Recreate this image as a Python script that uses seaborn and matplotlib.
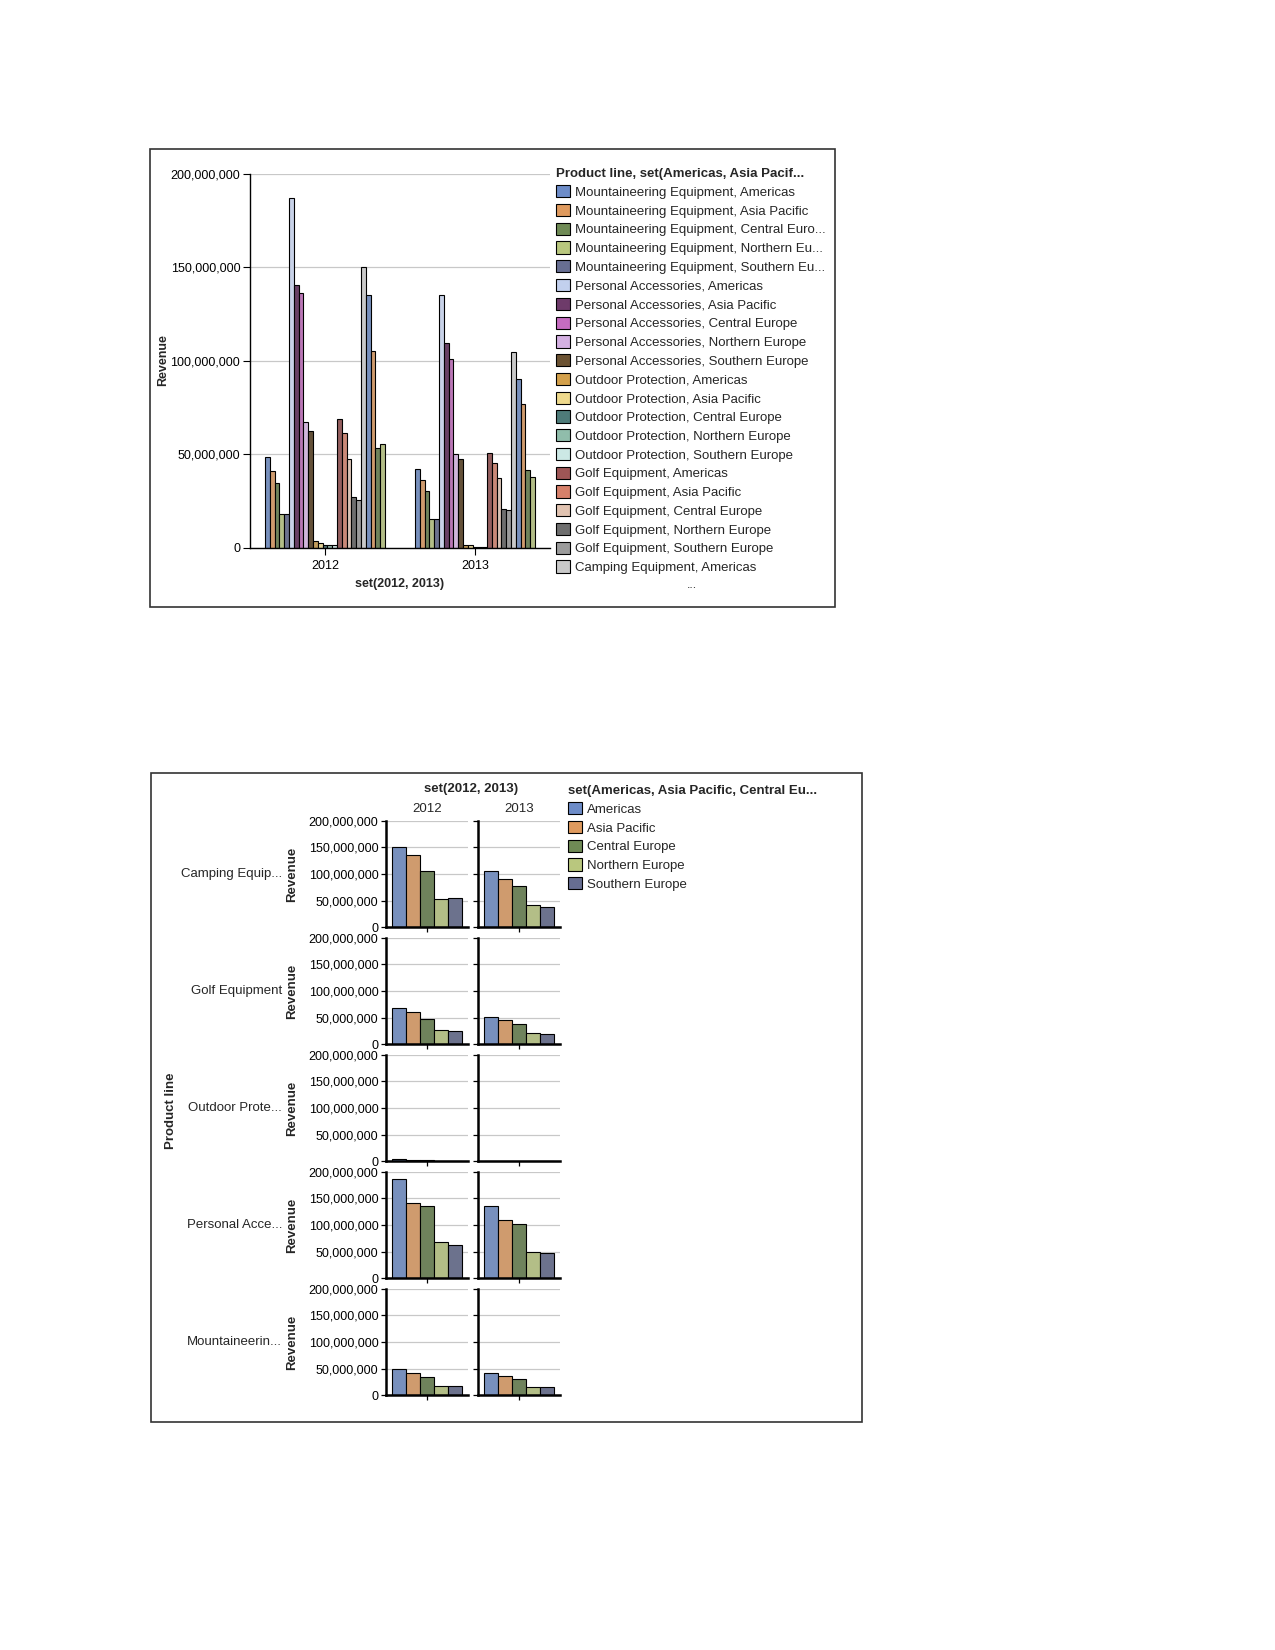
import pandas as pd
import matplotlib
matplotlib.use("Agg")
from matplotlib import pyplot as plt
from matplotlib.patches import Patch, Rectangle
from matplotlib.ticker import FuncFormatter
import seaborn as sns

W, H = 1275, 1650

years = ["2012", "2013"]
products = ["Mountaineering Equipment", "Personal Accessories", "Outdoor Protection",
            "Golf Equipment", "Camping Equipment"]
regions = ["Americas", "Asia Pacific", "Central Europe", "Northern Europe", "Southern Europe"]

# revenue in millions, one value per region (same order as regions)
mountaineering_2012 = [48.8, 41.2, 34.5, 18.0, 18.0]
mountaineering_2013 = [42.0, 36.5, 30.5, 15.5, 15.5]
personal_2012 = [187.2, 140.6, 136.3, 67.6, 62.4]
personal_2013 = [135.2, 109.7, 101.2, 50.1, 47.6]
outdoor_2012 = [3.6, 2.5, 1.8, 1.4, 1.4]
outdoor_2013 = [1.4, 1.4, 0.8, 0.8, 0.8]
golf_2012 = [68.9, 61.4, 47.5, 27.5, 25.7]
golf_2013 = [50.6, 45.3, 37.2, 20.8, 20.2]
camping_2012 = [150.0, 135.5, 105.5, 53.5, 55.5]
camping_2013 = [104.8, 90.5, 77.2, 41.8, 37.9]

bottom_rows = ["Camping Equipment", "Golf Equipment", "Outdoor Protection",
               "Personal Accessories", "Mountaineering Equipment"]
bottom_row_labels = ["Camping Equip...", "Golf Equipment", "Outdoor Prote...",
                     "Personal Acce...", "Mountaineerin..."]

# legend text as shown (long ones are cut off)
legend_labels = [
    "Mountaineering Equipment, Americas",
    "Mountaineering Equipment, Asia Pacific",
    "Mountaineering Equipment, Central Euro...",
    "Mountaineering Equipment, Northern Eu...",
    "Mountaineering Equipment, Southern Eu...",
    "Personal Accessories, Americas",
    "Personal Accessories, Asia Pacific",
    "Personal Accessories, Central Europe",
    "Personal Accessories, Northern Europe",
    "Personal Accessories, Southern Europe",
    "Outdoor Protection, Americas",
    "Outdoor Protection, Asia Pacific",
    "Outdoor Protection, Central Europe",
    "Outdoor Protection, Northern Europe",
    "Outdoor Protection, Southern Europe",
    "Golf Equipment, Americas",
    "Golf Equipment, Asia Pacific",
    "Golf Equipment, Central Europe",
    "Golf Equipment, Northern Europe",
    "Golf Equipment, Southern Europe",
    "Camping Equipment, Americas",
]

palette21 = ["#6d8cc8", "#df9a5e", "#6f8a55", "#b9c77e", "#676e92",
             "#c2d0ee", "#6e3b6a", "#c56cc0", "#d4b0e2", "#6b5232",
             "#d3a04b", "#eed98c", "#4e7b79", "#90bdab", "#cce8e5",
             "#9e5656", "#d6806a", "#e1c3b1", "#6e6e6e", "#9b9b9b",
             "#c9c9c9"]

values = {
    ("Mountaineering Equipment", "2012"): mountaineering_2012,
    ("Mountaineering Equipment", "2013"): mountaineering_2013,
    ("Personal Accessories", "2012"): personal_2012,
    ("Personal Accessories", "2013"): personal_2013,
    ("Outdoor Protection", "2012"): outdoor_2012,
    ("Outdoor Protection", "2013"): outdoor_2013,
    ("Golf Equipment", "2012"): golf_2012,
    ("Golf Equipment", "2013"): golf_2013,
    ("Camping Equipment", "2012"): camping_2012,
    ("Camping Equipment", "2013"): camping_2013,
}

rows = []
for (prod, yr), vals in values.items():
    for reg, v in zip(regions, vals):
        rows.append({"year": yr, "product": prod, "region": reg,
                     "series": f"{prod}, {reg}", "revenue": v * 1e6})
df = pd.DataFrame(rows)

series_order = [f"{p}, {r}" for p in products for r in regions]
series_colors = [palette21[i % 21] for i in range(len(series_order))]
region_colors = palette21[:5]

sns.set_theme(style="white")
plt.rcParams["font.family"] = ["Liberation Sans", "DejaVu Sans"]
plt.rcParams["font.size"] = 9

fmt = FuncFormatter(lambda v, p: f"{v:,.0f}")


def box(l, t, r, b):
    return [l / W, 1 - b / H, (r - l) / W, (b - t) / H]


def fxy(x, y):
    return x / W, 1 - y / H


fig = plt.figure(figsize=(W / 100, H / 100), dpi=100)

# outer frames
for l, t, r, b in [(150, 149, 835, 607), (151, 773, 862, 1422)]:
    fig.add_artist(Rectangle(fxy(l, b), (r - l) / W, (b - t) / H, transform=fig.transFigure,
                             fill=False, edgecolor="#333333", linewidth=1.2))


def style_axis(ax, spine_w):
    ax.set_ylim(0, 200e6)
    ax.set_yticks([0, 50e6, 100e6, 150e6, 200e6])
    ax.yaxis.set_major_formatter(fmt)
    ax.yaxis.grid(True, color="#c8c8c8", linewidth=0.9)
    ax.xaxis.grid(False)
    ax.set_axisbelow(True)
    for s in ["top", "right"]:
        ax.spines[s].set_visible(False)
    for s in ["left", "bottom"]:
        ax.spines[s].set_color("black")
        ax.spines[s].set_linewidth(spine_w)
    ax.set_xlabel("")
    ax.set_ylabel("")


# ---- top chart ----
ax = fig.add_axes(box(250, 174, 550, 548))
sns.barplot(data=df, x="year", y="revenue", hue="series", hue_order=series_order,
            order=years, palette=series_colors, width=0.8, edgecolor="black",
            linewidth=0.8, errorbar=None, legend=False, ax=ax)
style_axis(ax, 1.0)
ax.tick_params(axis="both", which="both", direction="out", length=5, width=0.8,
               labelsize=9, pad=2, left=True, bottom=True, colors="black")
ax.tick_params(axis="x", pad=3.5)
fig.text(*fxy(163, 360), "Revenue", rotation=90, ha="center", va="center",
         fontsize=9, fontweight="bold")
fig.text(*fxy(400, 584), "set(2012, 2013)", ha="center", va="center",
         fontsize=9, fontweight="bold")

handles = [Patch(facecolor=series_colors[i], edgecolor="black", linewidth=0.8)
           for i in range(21)]
fig.legend(handles, legend_labels, loc="upper left",
           bbox_to_anchor=fxy(556, 168), frameon=False, borderpad=0,
           borderaxespad=0, fontsize=9.5, handlelength=1.05, handleheight=1.05,
           handletextpad=0.4, labelspacing=0.39,
           title="Product line, set(Americas, Asia Pacif...",
           title_fontproperties={"weight": "bold", "size": 9.5},
           alignment="left")
fig.text(*fxy(692, 585), "...", ha="center", va="center", fontsize=9)

# ---- bottom faceted chart ----
col_x = [(386, 468), (478, 560)]
for r, prod in enumerate(bottom_rows):
    top = 820.7 + 117 * r
    bot = 927.3 + 117 * r
    for c, yr in enumerate(years):
        l, rr = col_x[c]
        axb = fig.add_axes(box(l, top, rr, bot))
        sub = df[(df["product"] == prod) & (df["year"] == yr)]
        sns.barplot(data=sub, x="year", y="revenue", hue="region", hue_order=regions,
                    palette=region_colors, width=0.85, edgecolor="black",
                    linewidth=0.8, errorbar=None, legend=False, ax=axb)
        style_axis(axb, 1.8)
        axb.set_xticks([0])
        axb.set_xticklabels([""])
        axb.tick_params(axis="both", direction="out", length=3.5, width=0.9,
                        labelsize=9, pad=2, left=True, bottom=True, colors="black")
        if c == 1:
            axb.set_yticklabels([])
    mid = (top + bot) / 2
    fig.text(*fxy(292, mid), "Revenue", rotation=90, ha="center", va="center",
             fontsize=9.5, fontweight="bold")
    fig.text(*fxy(282, mid), bottom_row_labels[r], ha="right", va="center", fontsize=9.5)

fig.text(*fxy(171, 1111), "Product line", rotation=90, ha="center", va="center",
         fontsize=9.5, fontweight="bold")
fig.text(*fxy(471, 789), "set(2012, 2013)", ha="center", va="center",
         fontsize=9.5, fontweight="bold")
fig.text(*fxy(427, 809), "2012", ha="center", va="center", fontsize=9.5)
fig.text(*fxy(519, 809), "2013", ha="center", va="center", fontsize=9.5)

rhandles = [Patch(facecolor=region_colors[i], edgecolor="black", linewidth=0.8)
            for i in range(5)]
fig.legend(rhandles, regions, loc="upper left", bbox_to_anchor=fxy(568, 785),
           frameon=False, borderpad=0, borderaxespad=0, fontsize=9.5,
           handlelength=1.05, handleheight=1.05, handletextpad=0.4, labelspacing=0.39,
           title="set(Americas, Asia Pacific, Central Eu...",
           title_fontproperties={"weight": "bold", "size": 9.5}, alignment="left")

fig.savefig("out.png", dpi=100)
